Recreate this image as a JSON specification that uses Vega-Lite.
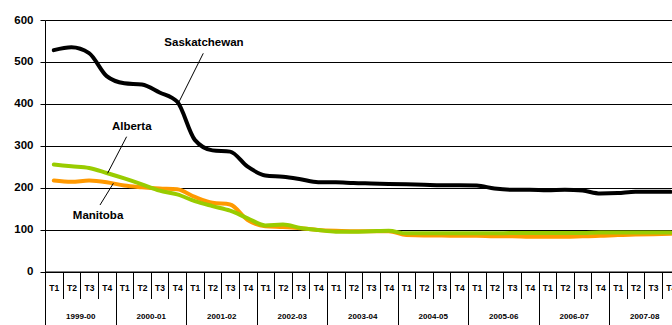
{
  "$schema": "https://vega.github.io/schema/vega-lite/v6.json",
  "width": 634.5,
  "height": 251.5,
  "autosize": {"type": "none"},
  "padding": {"left": 45, "top": 20, "right": -7.5, "bottom": 53.5},
  "background": "white",
  "config": {
    "view": {"stroke": null},
    "font": "Liberation Sans",
    "text": {"font": "Liberation Sans"}
  },
  "datasets": {
    "series": [
      {"quarter": "1999-00 T1", "Saskatchewan": 528, "Manitoba": 217, "Alberta": 255},
      {"quarter": "1999-00 T2", "Saskatchewan": 535, "Manitoba": 214, "Alberta": 251},
      {"quarter": "1999-00 T3", "Saskatchewan": 521, "Manitoba": 217, "Alberta": 247},
      {"quarter": "1999-00 T4", "Saskatchewan": 466, "Manitoba": 213, "Alberta": 235},
      {"quarter": "2000-01 T1", "Saskatchewan": 449, "Manitoba": 205, "Alberta": 222},
      {"quarter": "2000-01 T2", "Saskatchewan": 446, "Manitoba": 201, "Alberta": 208},
      {"quarter": "2000-01 T3", "Saskatchewan": 427, "Manitoba": 198, "Alberta": 193},
      {"quarter": "2000-01 T4", "Saskatchewan": 405, "Manitoba": 196, "Alberta": 184},
      {"quarter": "2001-02 T1", "Saskatchewan": 314, "Manitoba": 178, "Alberta": 168},
      {"quarter": "2001-02 T2", "Saskatchewan": 289, "Manitoba": 164, "Alberta": 156},
      {"quarter": "2001-02 T3", "Saskatchewan": 286, "Manitoba": 160, "Alberta": 145},
      {"quarter": "2001-02 T4", "Saskatchewan": 250, "Manitoba": 123, "Alberta": 127},
      {"quarter": "2002-03 T1", "Saskatchewan": 229, "Manitoba": 108, "Alberta": 110},
      {"quarter": "2002-03 T2", "Saskatchewan": 226, "Manitoba": 106, "Alberta": 112},
      {"quarter": "2002-03 T3", "Saskatchewan": 220, "Manitoba": 103, "Alberta": 104},
      {"quarter": "2002-03 T4", "Saskatchewan": 213, "Manitoba": 99, "Alberta": 99},
      {"quarter": "2003-04 T1", "Saskatchewan": 213, "Manitoba": 97, "Alberta": 95},
      {"quarter": "2003-04 T2", "Saskatchewan": 211, "Manitoba": 96, "Alberta": 95},
      {"quarter": "2003-04 T3", "Saskatchewan": 210, "Manitoba": 96, "Alberta": 96},
      {"quarter": "2003-04 T4", "Saskatchewan": 209, "Manitoba": 96, "Alberta": 97},
      {"quarter": "2004-05 T1", "Saskatchewan": 208, "Manitoba": 87, "Alberta": 91},
      {"quarter": "2004-05 T2", "Saskatchewan": 207, "Manitoba": 86, "Alberta": 91},
      {"quarter": "2004-05 T3", "Saskatchewan": 206, "Manitoba": 86, "Alberta": 91},
      {"quarter": "2004-05 T4", "Saskatchewan": 206, "Manitoba": 85, "Alberta": 91},
      {"quarter": "2005-06 T1", "Saskatchewan": 205, "Manitoba": 85, "Alberta": 91},
      {"quarter": "2005-06 T2", "Saskatchewan": 198, "Manitoba": 84, "Alberta": 91},
      {"quarter": "2005-06 T3", "Saskatchewan": 195, "Manitoba": 84, "Alberta": 92},
      {"quarter": "2005-06 T4", "Saskatchewan": 195, "Manitoba": 83, "Alberta": 92},
      {"quarter": "2006-07 T1", "Saskatchewan": 194, "Manitoba": 83, "Alberta": 92},
      {"quarter": "2006-07 T2", "Saskatchewan": 195, "Manitoba": 83, "Alberta": 92},
      {"quarter": "2006-07 T3", "Saskatchewan": 193, "Manitoba": 84, "Alberta": 92},
      {"quarter": "2006-07 T4", "Saskatchewan": 186, "Manitoba": 85, "Alberta": 93},
      {"quarter": "2007-08 T1", "Saskatchewan": 187, "Manitoba": 87, "Alberta": 93},
      {"quarter": "2007-08 T2", "Saskatchewan": 190, "Manitoba": 88, "Alberta": 93},
      {"quarter": "2007-08 T3", "Saskatchewan": 190, "Manitoba": 89, "Alberta": 93},
      {"quarter": "2007-08 T4", "Saskatchewan": 190, "Manitoba": 90, "Alberta": 93}
    ],
    "years": [
      {"year": "1999-00"}, {"year": "2000-01"}, {"year": "2001-02"},
      {"year": "2002-03"}, {"year": "2003-04"}, {"year": "2004-05"},
      {"year": "2005-06"}, {"year": "2006-07"}, {"year": "2007-08"}
    ],
    "labels": [
      {"name": "Saskatchewan", "lx": 9.02, "ly": 546},
      {"name": "Alberta", "lx": 4.92, "ly": 345},
      {"name": "Manitoba", "lx": 3.01, "ly": 133}
    ],
    "leaders": [
      {"name": "Saskatchewan", "x1": 8.98, "y1": 520.5, "x2": 7.56, "y2": 401},
      {"name": "Alberta", "x1": 4.63, "y1": 321.6, "x2": 3.55, "y2": 234.3},
      {"name": "Manitoba", "x1": 3.12, "y1": 158.6, "x2": 3.88, "y2": 210.4}
    ]
  },
  "layer": [
    {
      "data": {"name": "series"},
      "transform": [
        {"fold": ["Saskatchewan", "Manitoba", "Alberta"], "as": ["province", "value"]}
      ],
      "mark": {"type": "line", "interpolate": "monotone", "strokeWidth": 4, "strokeCap": "round", "strokeJoin": "round"},
      "encoding": {
        "x": {
          "field": "quarter",
          "type": "ordinal",
          "scale": {"type": "band", "paddingInner": 0, "paddingOuter": 0},
          "axis": {
            "orient": "bottom",
            "title": null,
            "labelExpr": "isString(datum.value) ? substring(datum.value, 8) : ''",
            "tickBand": "extent",
            "tickSize": 27,
            "tickColor": "black",
            "domainColor": "black",
            "labelFont": "Liberation Sans",
            "labelFontSize": 8.5,
            "labelFontWeight": "bold",
            "labelColor": "black",
            "labelPadding": -14.7,
            "labelAngle": 0,
            "labelOverlap": false,
            "labelFlush": false,
            "labelBound": false,
            "grid": false
          }
        },
        "y": {
          "field": "value",
          "type": "quantitative",
          "title": null,
          "scale": {"domain": [0, 600], "nice": false},
          "axis": {
            "values": [0, 100, 200, 300, 400, 500, 600],
            "grid": true,
            "gridColor": "black",
            "gridWidth": 1,
            "domainColor": "black",
            "tickColor": "black",
            "tickSize": 5,
            "labelFont": "Liberation Sans",
            "labelFontSize": 11.5,
            "labelFontWeight": "bold",
            "labelColor": "black",
            "labelPadding": 7
          }
        },
        "color": {
          "field": "province",
          "type": "nominal",
          "scale": {"domain": ["Saskatchewan", "Manitoba", "Alberta"], "range": ["#000000", "#FF9900", "#99CC00"]},
          "legend": null
        }
      }
    },
    {
      "data": {"name": "years"},
      "mark": {"type": "tick", "opacity": 0},
      "encoding": {
        "x": {
          "field": "year",
          "type": "ordinal",
          "scale": {"type": "band", "paddingInner": 0, "paddingOuter": 0},
          "axis": {
            "orient": "bottom",
            "title": null,
            "domain": false,
            "tickBand": "extent",
            "tickSize": 60,
            "tickColor": "black",
            "labelFont": "Liberation Sans",
            "labelFontSize": 8,
            "labelFontWeight": "bold",
            "labelColor": "black",
            "labelPadding": -19.3,
            "labelAngle": 0,
            "labelOverlap": false,
            "labelFlush": false,
            "labelBound": false,
            "grid": false
          }
        }
      }
    },
    {
      "data": {"name": "leaders"},
      "mark": {"type": "rule", "color": "black", "strokeWidth": 1},
      "encoding": {
        "x": {"field": "x1", "type": "quantitative", "scale": {"domain": [0, 36], "nice": false, "zero": false}, "axis": null},
        "x2": {"field": "x2"},
        "y": {"field": "y1", "type": "quantitative", "title": null, "scale": {"domain": [0, 600], "nice": false}},
        "y2": {"field": "y2"}
      }
    },
    {
      "data": {"name": "labels"},
      "mark": {"type": "text", "font": "Liberation Sans", "fontSize": 11.5, "fontWeight": "bold", "color": "black", "align": "center", "baseline": "middle"},
      "encoding": {
        "x": {"field": "lx", "type": "quantitative", "scale": {"domain": [0, 36], "nice": false, "zero": false}, "axis": null},
        "y": {"field": "ly", "type": "quantitative", "title": null, "scale": {"domain": [0, 600], "nice": false}},
        "text": {"field": "name"}
      }
    }
  ],
  "resolve": {"scale": {"x": "independent"}, "axis": {"x": "independent"}}
}
